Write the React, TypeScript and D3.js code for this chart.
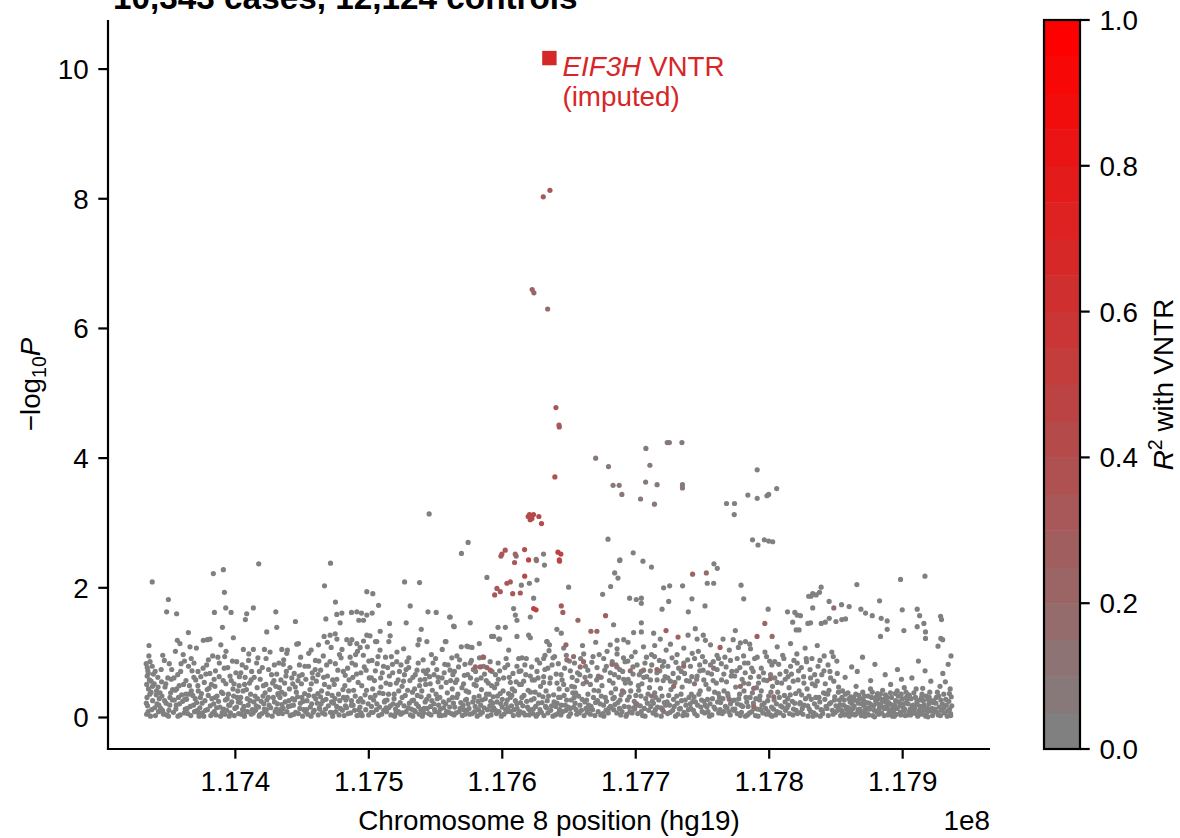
import React, { useEffect, useRef } from 'react';
import * as d3 from 'd3';

// chr8 positions are in kb (hg19), values are -log10 P
const title = '10,343 cases, 12,124 controls';
const vntr = { kb: 117635.3, logP: 10.17 };

// SNPs in LD with the VNTR: [kb, -log10P, r2]
const ldSnps: [number, number, number][] = [
  [117635.7,8.13,0.3],[117630.7,8.03,0.3],
  [117622.4,6.6,0.22],[117623.7,6.55,0.22],[117634.0,6.3,0.18],
  [117640.2,4.78,0.3],[117642.5,4.51,0.3],[117642.7,4.48,0.3],[117639.4,3.71,0.38],
  [117620.4,3.13,0.4],[117623.4,3.13,0.4],[117627.4,3.1,0.4],[117620.9,3.05,0.4],[117629.4,2.99,0.42],[117619.4,3.1,0.4],[117622.2,3.07,0.4],
  [117599.0,2.49,0.3],[117599.7,2.52,0.3],[117602.2,2.58,0.3],[117609.7,2.52,0.15],[117610.4,2.49,0.15],[117616.7,2.59,0.35],[117619.7,2.43,0.45],
  [117641.7,2.55,0.45],[117643.9,2.52,0.45],[117642.7,2.43,0.45],[117642.9,2.41,0.3],[117625.4,2.44,0.1],[117625.6,2.42,0.1],
  [117616.8,2.18,0.4],[117596.0,1.99,0.3],[117598.5,1.94,0.3],[117603.5,2.07,0.3],[117606.0,2.09,0.3],[117607.8,1.91,0.3],[117613.5,1.92,0.3],[117594.3,1.89,0.3],[117609.2,2.39,0.25],
  [117623.5,1.68,0.45],[117625.3,1.66,0.45],
  [117644.2,1.72,0.25],[117645.4,1.62,0.25],[117656.7,1.5,0.2],[117666.4,1.33,0.2],[117670.9,1.33,0.2],[117677.4,1.57,0.25],[117742.6,2.21,0.2],[117752.9,2.23,0.15],
  [117722.7,1.34,0.25],[117731.7,1.24,0.2],[117796.7,1.45,0.2],[117790.9,1.25,0.25],[117802.2,1.25,0.15],[117763.2,1.08,0.25],[117848.4,1.69,0.15],[117647.7,1.12,0.2],
  [117585.5,0.93,0.2],[117579.8,0.78,0.2],[117583.5,0.78,0.2],[117588.5,0.77,0.2],[117591.0,0.73,0.2],
];

// weakly tinted points inside the band
const weakLdSnps: [number, number, number][] = [
  [117658.4,0.78,0.15],[117660.9,0.86,0.15],[117682.2,0.82,0.15],[117685.9,0.78,0.12],[117695.9,0.72,0.15],[117705.9,0.73,0.12],[117715.9,0.74,0.15],
  [117728.4,0.48,0.15],[117735.9,0.79,0.15],[117758.4,0.76,0.12],[117778.4,0.48,0.15],[117788.4,0.17,0.15],[117800.9,0.6,0.15],[117803.4,0.32,0.15],
  [117648.4,0.89,0.15],[117653.4,0.94,0.15],[117788.4,0.45,0.15],[117663.0,0.55,0.12],[117672.0,0.62,0.12],[117690.0,0.41,0.1],[117700.0,0.21,0.1],
  [117712.0,0.33,0.12],[117720.0,0.12,0.1],[117744.0,0.52,0.12],[117770.0,0.28,0.1],
];

// secondary signals right of the VNTR
const secondarySnps: [number, number, number][] = [
  [117670.0,4.0,0.06],[117679.6,3.87,0.06],[117707.6,4.15,0.06],[117723.6,4.24,0.06],[117725.2,4.24,0.06],[117734.6,4.24,0.06],[117710.6,3.89,0.06],
  [117707.4,3.63,0.06],[117716.0,3.59,0.06],[117735.0,3.59,0.06],[117735.0,3.54,0.06],[117683.0,3.58,0.06],[117687.6,3.58,0.06],[117689.6,3.44,0.06],
  [117703.6,3.37,0.06],[117714.0,3.29,0.06],
  [117791.0,3.82,0.04],[117805.6,3.53,0.04],[117798.3,3.42,0.04],[117799.6,3.44,0.04],[117791.0,3.38,0.04],[117784.0,3.43,0.04],[117768.0,3.3,0.04],
  [117774.0,3.3,0.04],[117773.8,3.13,0.04],[117787.5,2.74,0.04],[117791.6,2.66,0.04],[117796.3,2.74,0.04],[117799.6,2.72,0.04],[117802.6,2.71,0.04],
];

// grey SNPs above the dense band: [kb, -log10P]
const scatterSnps: [number, number][] = [
  [117337.7,2.09],[117349.8,1.82],[117348.5,1.63],[117356.0,1.6],[117335.3,1.11],[117383.5,2.22],[117391.0,2.28],[117391.8,1.93],[117417.5,2.37],
  [117392.8,1.69],[117396.8,1.62],[117384.3,1.62],[117390.3,1.39],[117364.8,1.31],[117398.5,1.23],[117408.5,1.6],[117407.5,1.51],[117413.5,1.69],
  [117430.3,1.63],[117423.5,1.32],[117431.0,1.39],[117445.0,1.48],[117466.8,2.03],[117471.3,2.38],[117475.0,1.78],[117467.8,1.52],[117476.0,1.59],
  [117479.8,1.61],[117478.5,1.46],[117487.0,1.62],[117491.0,1.63],[117494.5,1.61],[117498.5,1.58],[117496.0,1.5],[117492.5,1.5],[117502.5,1.61],
  [117498.5,1.94],[117503.0,1.91],[117507.3,1.73],[117515.5,1.45],[117508.5,1.33],[117506.0,1.17],[117498.5,1.27],[117516.0,1.26],[117515.0,1.17],
  [117526.8,2.09],[117538.0,2.08],[117531.0,1.72],[117528.0,1.46],[117539.3,1.36],[117544.3,1.63],[117550.5,1.62],[117560.5,1.55],[117563.5,1.41],
  [117576.0,1.46],[117588.5,2.16],[117545.2,3.14],
  [117356.5,1.19],[117358.5,1.14],[117366.0,1.09],[117379.0,1.2],[117381.0,1.21],[117393.0,1.02],[117406.0,1.05],[117413.5,1.05],[117421.8,1.05],
  [117434.8,1.05],[117438.5,0.99],[117447.3,1.14],[117456.8,1.04],[117462.3,1.12],[117466.5,1.25],[117471.0,1.27],[117474.8,1.29],[117483.5,1.2],
  [117487.3,1.2],[117491.0,1.14],[117493.5,1.08],[117537.8,1.2],[117543.5,1.17],[117557.3,1.17],[117573.5,1.1],[117582.8,1.14],[117592.0,1.25],[117597.3,1.21],
  [117614.3,2.04],[117620.3,2.07],[117626.0,2.12],[117623.5,1.84],[117621.0,1.55],[117608.5,1.68],[117609.8,1.58],[117611.0,1.5],[117596.8,1.39],
  [117602.3,1.39],[117593.5,1.25],[117598.0,1.21],[117611.0,1.25],[117619.8,1.27],[117621.0,1.23],[117604.8,1.04],[117612.3,0.91],[117614.8,0.92],
  [117633.5,1.17],[117631.0,0.91],[117574.8,1.09],[117577.3,1.08],[117564.0,1.4],[117561.0,1.55],[117557.8,1.17],
  [117569.4,2.53],[117574.4,2.7],[117630.9,2.52],[117631.6,2.35],[117679.2,2.75],[117688.2,2.43],[117698.1,2.54],[117705.4,2.41],[117711.8,2.32],
  [117758.6,2.37],[117761.1,2.3],
  [117649.7,2.01],[117687.9,2.42],[117684.2,2.23],[117686.7,2.15],[117681.2,2.02],[117675.2,1.9],[117695.4,1.84],[117700.4,1.82],[117704.2,1.84],
  [117704.2,1.76],[117683.4,1.43],[117704.2,1.46],[117720.9,2.0],[117725.4,2.03],[117735.1,2.03],[117753.6,2.07],[117758.4,2.07],[117742.1,1.83],
  [117739.4,1.63],[117751.9,1.72],[117719.7,1.67],[117724.7,1.79],[117778.9,2.04],[117780.9,1.83],[117799.2,1.67],[117813.7,1.63],[117819.2,1.62],
  [117820.9,1.58],[117823.4,1.57],[117817.6,1.47],[117829.6,1.87],[117832.6,1.91],[117832.6,1.69],[117838.9,2.01],[117837.7,1.93],[117844.9,1.79],
  [117854.2,1.74],[117859.9,1.71],[117868.7,1.67],[117872.2,1.61],[117877.2,1.57],[117882.7,1.8],[117883.9,1.53],[117888.4,1.49],[117888.4,1.36],
  [117899.7,1.66],[117900.9,1.34],[117910.9,1.67],[117912.7,1.57],[117915.9,1.45],[117910.9,1.4],[117928.4,1.56],[117929.1,1.51],[117917.1,1.32],
  [117917.1,1.22],[117883.4,1.25],[117857.2,1.52],[117854.4,1.51],[117845.0,1.53],[117850.0,1.48],[117831.0,1.46],[117829.0,1.45],[117839.0,1.45],
  [117842.0,1.47],[117822.4,1.35],[117820.2,1.35],[117774.6,1.34],[117765.4,1.21],[117773.0,1.2],[117778.4,1.15],[117782.2,1.17],[117785.4,1.13],
  [117640.9,1.36],[117644.2,1.3],[117698.4,1.31],[117704.2,1.32],[117713.4,1.3],[117718.4,1.21],[117714.2,1.11],[117691.0,1.2],[117686.0,1.19],
  [117694.2,1.16],[117633.4,1.17],[117635.4,1.12],[117739.2,1.27],[117746.0,1.21],[117752.2,1.19],[117750.6,1.27],[117744.6,1.37],
  [117898.4,2.13],[117916.7,2.18],[117865.7,2.05],[117835.2,1.89],[117831.4,1.87],[117928.6,1.22],[117930.0,1.2],[117926.5,1.1],
];

// dense band, left part
const bandLeft: [number, number][] = [
  [117333.5,0.05],[117334.2,0.18],[117333.8,0.31],[117334.9,0.44],[117335.6,0.58],[117334.4,0.72],[117336.1,0.86],[117337.3,0.12],[117338.0,0.26],
  [117336.8,0.39],[117339.2,0.52],[117338.6,0.67],[117340.1,0.03],[117341.3,0.21],[117340.7,0.35],[117342.4,0.09],[117341.9,0.62],[117343.0,0.29],
  [117333.9,0.64],[117335.2,0.95],[117337.7,0.79],
  [117344.1,0.14],[117345.0,0.33],[117346.2,0.05],[117347.3,0.47],[117348.1,0.22],[117349.4,0.61],[117350.2,0.11],[117351.5,0.38],[117352.3,0.74],
  [117346.8,0.88],[117349.9,0.02],[117352.8,0.27],[117344.7,0.55],
  [117353.6,0.08],[117354.9,0.42],[117355.7,0.19],[117356.8,0.66],[117357.4,0.31],[117358.6,0.04],[117359.3,0.83],[117360.5,0.25],[117361.2,0.51],
  [117362.4,0.13],[117355.1,1.02],[117360.9,0.97],[117362.9,0.36],
  [117363.5,0.28],[117364.3,0.06],[117365.6,0.49],[117366.2,0.17],[117367.5,0.72],[117368.1,0.34],[117369.4,0.09],[117370.3,0.58],[117371.0,0.23],
  [117372.2,0.41],[117366.9,0.91],[117372.8,0.02],[117370.8,1.07],
  [117373.4,0.15],[117374.6,0.37],[117375.3,0.07],[117376.7,0.54],[117377.2,0.26],[117378.5,0.81],[117379.1,0.12],[117380.3,0.45],[117381.6,0.03],
  [117382.4,0.29],[117376.0,1.19],[117380.9,0.68],[117383.0,0.95],
  [117383.8,0.21],[117384.7,0.48],[117385.5,0.04],[117386.3,0.33],[117387.9,0.63],[117388.4,0.16],[117389.6,0.39],[117390.2,0.08],[117391.7,0.76],
  [117392.5,0.27],[117386.9,0.93],[117389.1,1.12],[117392.9,0.52],
  [117393.6,0.11],[117394.8,0.36],[117395.4,0.02],[117396.9,0.57],[117397.3,0.24],[117398.2,0.44],[117399.6,0.14],[117400.4,0.69],[117401.3,0.31],
  [117402.5,0.06],[117397.8,0.87],[117402.8,0.49],[117395.9,0.19],
  [117403.7,0.23],[117404.5,0.05],[117405.8,0.41],[117406.4,0.17],[117407.3,0.62],[117408.9,0.29],[117409.2,0.09],[117410.6,0.53],[117411.4,0.36],
  [117412.7,0.12],[117405.1,0.81],[117410.1,0.98],[117412.2,0.71],
  [117413.4,0.07],[117414.8,0.33],[117415.6,0.18],[117416.3,0.46],[117417.9,0.02],[117418.6,0.59],[117419.4,0.25],[117420.2,0.77],[117421.7,0.13],
  [117422.3,0.38],[117416.9,0.92],[117419.9,0.06],[117422.9,0.51],
  [117423.6,0.27],[117424.2,0.04],[117425.7,0.43],[117426.5,0.15],[117427.1,0.66],[117428.4,0.31],[117429.8,0.09],[117430.3,0.48],[117431.5,0.21],
  [117432.6,0.84],[117426.0,1.01],[117428.9,0.57],[117432.1,0.35],
  [117433.8,0.12],[117434.6,0.39],[117435.3,0.06],[117436.9,0.53],[117437.4,0.24],[117438.2,0.71],[117439.7,0.17],[117440.5,0.44],[117441.1,0.03],
  [117442.8,0.29],[117436.2,0.89],[117439.0,1.04],[117442.3,0.61],
  [117443.5,0.19],[117444.9,0.47],[117445.2,0.08],[117446.6,0.32],[117447.8,0.64],[117448.3,0.14],[117449.5,0.52],[117450.4,0.02],[117451.9,0.37],
  [117452.1,0.79],[117446.0,1.13],[117450.9,0.25],[117448.9,0.93],
  [117453.7,0.26],[117454.3,0.05],[117455.9,0.43],[117456.2,0.16],[117457.6,0.69],[117458.8,0.33],[117459.1,0.11],[117460.7,0.56],[117461.4,0.22],
  [117462.6,0.87],[117455.0,0.99],[117459.8,0.74],[117462.1,0.04],
  [117463.2,0.13],[117464.6,0.41],[117465.3,0.07],[117466.1,0.62],[117467.9,0.28],[117468.4,0.81],[117469.7,0.18],[117470.2,0.47],[117471.8,1.08],
  [117472.5,0.34],[117465.9,0.95],[117468.9,1.16],[117472.9,0.02],
  [117473.6,0.22],[117474.1,0.51],[117475.4,0.09],[117476.8,0.73],[117477.3,0.36],[117478.7,0.14],[117479.2,0.92],[117480.6,0.43],[117481.5,0.03],
  [117482.3,0.65],[117476.1,1.21],[117479.9,1.05],[117482.8,0.27],
];

// dense band, middle part
const bandMiddle: [number, number][] = [
  [117483.7,0.31],[117484.5,0.06],[117485.2,0.58],[117486.9,0.19],[117487.4,0.84],[117488.6,0.42],[117489.3,0.11],[117490.8,0.67],[117491.5,1.02],
  [117492.2,0.25],[117485.9,1.14],[117490.1,0.97],[117492.8,0.04],
  [117493.4,0.16],[117494.7,0.49],[117495.1,0.03],[117496.6,0.78],[117497.2,0.35],[117498.9,1.09],[117499.5,0.21],[117500.3,0.61],[117501.8,0.08],
  [117502.4,0.88],[117496.0,1.18],[117500.9,1.26],[117502.9,0.44],
  [117503.6,0.27],[117504.2,0.57],[117505.8,0.12],[117506.3,0.83],[117507.9,0.38],[117508.4,1.04],[117509.6,0.05],[117510.1,0.69],[117511.7,0.24],
  [117512.5,0.93],[117505.0,1.17],[117509.0,0.47],[117512.9,0.15],
  [117513.3,0.09],[117514.8,0.36],[117515.4,0.64],[117516.2,0.18],[117517.7,0.82],[117518.9,0.29],[117519.3,0.02],[117520.6,0.53],[117521.1,1.01],
  [117522.4,0.41],[117516.9,0.94],[117520.0,0.13],[117522.9,0.71],
  [117523.5,0.23],[117524.9,0.48],[117525.2,0.07],[117526.7,0.66],[117527.3,0.34],[117528.6,0.86],[117529.4,0.15],[117530.8,0.57],[117531.2,0.04],
  [117532.7,0.39],[117526.1,1.06],[117529.9,0.77],[117532.3,0.26],
  [117533.9,0.11],[117534.3,0.44],[117535.6,0.21],[117536.1,0.73],[117537.8,0.05],[117538.5,0.58],[117539.2,0.32],[117540.7,0.89],[117541.4,0.14],
  [117542.6,0.51],[117536.8,1.12],[117540.1,0.02],[117542.9,0.68],
  [117543.4,0.28],[117544.8,0.06],[117545.5,0.63],[117546.3,0.17],[117547.6,0.42],[117548.1,0.84],[117549.7,0.09],[117550.4,0.36],[117551.9,0.55],
  [117552.3,0.19],[117546.9,0.97],[117550.9,0.74],[117552.8,0.03],
  [117553.6,0.13],[117554.2,0.47],[117555.9,0.24],[117556.5,0.69],[117557.1,0.04],[117558.8,0.38],[117559.4,0.81],[117560.6,0.16],[117561.3,0.57],
  [117562.7,0.31],[117555.0,1.05],[117559.9,0.08],[117562.2,0.92],
  [117563.4,0.22],[117564.9,0.54],[117565.3,0.07],[117566.7,0.36],[117567.2,0.78],[117568.5,0.14],[117569.8,0.46],[117570.1,0.03],[117571.6,0.65],
  [117572.4,0.27],[117566.0,0.95],[117569.3,1.09],[117572.9,0.41],
  [117573.5,0.11],[117574.8,0.39],[117575.6,0.05],[117576.2,0.61],[117577.9,0.24],[117578.3,0.74],[117579.7,0.17],[117580.4,0.49],[117581.2,0.02],
  [117582.6,0.33],[117576.9,0.88],[117580.9,0.58],
  [117583.8,0.19],[117584.4,0.43],[117585.1,0.08],[117586.7,0.67],[117587.3,0.29],[117588.9,0.12],[117589.5,0.53],[117590.2,0.36],[117591.6,0.04],
  [117592.3,0.71],[117586.0,0.93],[117592.8,0.22],
  [117593.6,0.15],[117594.2,0.46],[117595.7,0.06],[117596.4,0.33],[117597.1,0.59],[117598.8,0.21],[117599.3,0.02],[117600.6,0.41],[117601.9,0.77],
  [117602.5,0.12],[117596.9,0.84],[117600.0,0.28],
  [117603.4,0.09],[117604.7,0.37],[117605.2,0.62],[117606.9,0.18],[117607.5,0.44],[117608.3,0.03],[117609.8,0.26],[117610.4,0.55],[117611.1,0.14],
  [117612.6,0.71],[117606.0,0.31],[117611.9,0.06],
  [117613.7,0.23],[117614.3,0.51],[117615.8,0.07],[117616.2,0.34],[117617.6,0.66],[117618.9,0.16],[117619.4,0.42],[117620.1,0.04],[117621.7,0.27],
  [117622.5,0.58],[117616.9,0.81],[117620.8,0.11],
  [117623.2,0.13],[117624.6,0.39],[117625.4,0.02],[117626.8,0.61],[117627.1,0.22],[117628.7,0.48],[117629.3,0.08],[117630.5,0.32],[117631.9,0.74],
  [117632.4,0.17],[117626.1,0.89],[117630.9,0.54],
  [117633.7,0.26],[117634.2,0.07],[117635.6,0.53],[117636.9,0.18],[117637.3,0.81],[117638.5,0.35],[117639.8,0.04],[117640.4,0.67],[117641.1,0.22],
  [117642.6,0.44],[117635.0,1.03],[117639.2,0.94],[117642.9,0.12],
  [117643.4,0.31],[117644.8,0.58],[117645.3,0.09],[117646.7,0.76],[117647.2,0.19],[117648.6,0.43],[117649.9,0.02],[117650.3,0.87],[117651.7,0.27],
  [117652.4,0.62],[117646.0,1.07],[117650.9,0.14],
  [117653.5,0.16],[117654.1,0.47],[117655.8,0.05],[117656.4,0.69],[117657.2,0.33],[117658.7,0.91],[117659.3,0.11],[117660.6,0.52],[117661.9,0.24],
  [117662.3,0.79],[117655.0,0.38],[117660.1,1.11],
  [117663.6,0.08],[117664.2,0.36],[117665.9,0.64],[117666.5,0.17],[117667.1,0.85],[117668.8,0.42],[117669.4,0.03],[117670.7,0.58],[117671.3,0.26],
  [117672.6,0.97],[117665.0,0.13],[117670.0,1.16],
  [117673.3,0.21],[117674.7,0.49],[117675.4,0.06],[117676.8,0.73],[117677.2,0.31],[117678.5,1.02],[117679.9,0.14],[117680.3,0.57],[117681.6,0.38],
  [117682.4,0.86],[117676.1,0.02],[117680.9,1.12],
];

// dense band, right part
const bandRight: [number, number][] = [
  [117683.5,0.12],[117684.9,0.44],[117685.2,0.81],[117686.6,0.23],[117687.3,0.62],[117688.7,0.04],[117689.1,0.35],[117690.8,0.92],[117691.4,0.17],
  [117692.2,0.53],[117686.0,1.06],[117690.2,0.71],
  [117693.8,0.27],[117694.3,0.59],[117695.7,0.09],[117696.2,0.41],[117697.9,0.78],[117698.4,0.15],[117699.6,1.01],[117700.1,0.34],[117701.5,0.06],
  [117702.7,0.66],[117696.9,0.94],[117700.8,0.21],
  [117703.4,0.18],[117704.6,0.52],[117705.1,0.03],[117706.9,0.84],[117707.5,0.29],[117708.2,0.63],[117709.7,0.11],[117710.3,0.46],[117711.8,0.97],
  [117712.4,0.25],[117705.8,1.09],[117710.9,0.72],
  [117713.6,0.07],[117714.2,0.38],[117715.9,0.69],[117716.3,0.16],[117717.7,0.88],[117718.5,0.45],[117719.1,0.02],[117720.6,0.57],[117721.4,0.23],
  [117722.8,1.04],[117715.0,0.31],[117720.0,0.79],
  [117723.5,0.24],[117724.1,0.61],[117725.8,0.08],[117726.4,0.43],[117727.2,0.92],[117728.9,0.17],[117729.3,0.54],[117730.7,0.33],[117731.6,0.05],
  [117732.2,0.76],[117726.0,1.13],[117730.1,0.85],
  [117733.4,0.14],[117734.8,0.47],[117735.3,0.03],[117736.6,0.68],[117737.1,0.27],[117738.9,0.89],[117739.5,0.12],[117740.2,0.56],[117741.7,0.36],
  [117742.3,0.99],[117736.0,1.07],[117740.8,0.21],
  [117743.7,0.32],[117744.2,0.06],[117745.6,0.59],[117746.4,0.19],[117747.9,0.81],[117748.3,0.41],[117749.8,0.09],[117750.5,0.73],[117751.1,0.25],
  [117752.6,0.51],[117746.9,1.02],[117750.0,0.94],
  [117753.3,0.16],[117754.7,0.44],[117755.2,0.02],[117756.8,0.67],[117757.5,0.29],[117758.1,0.86],[117759.6,0.13],[117760.4,0.53],[117761.9,0.37],
  [117762.2,0.07],[117756.0,1.12],[117760.9,0.96],
  [117763.6,0.23],[117764.3,0.58],[117765.9,0.09],[117766.1,0.41],[117767.7,0.78],[117768.4,0.15],[117769.2,0.33],[117770.8,0.04],[117771.5,0.64],
  [117772.3,0.26],[117766.8,0.93],[117770.1,1.04],
  [117773.4,0.11],[117774.9,0.47],[117775.6,0.72],[117776.2,0.21],[117777.8,0.36],[117778.3,0.03],[117779.7,0.59],[117780.1,0.17],[117781.5,0.84],
  [117782.6,0.31],[117776.9,1.08],[117780.8,0.95],
  [117783.2,0.24],[117784.6,0.52],[117785.3,0.07],[117786.9,0.76],[117787.4,0.38],[117788.8,0.14],[117789.1,0.91],[117790.5,0.46],[117791.7,0.02],
  [117792.3,0.63],[117786.0,1.06],[117790.0,0.29],
  [117793.5,0.12],[117794.1,0.41],[117795.7,0.69],[117796.2,0.22],[117797.9,0.05],[117798.4,0.57],[117799.6,0.33],[117800.3,0.87],[117801.8,0.16],
  [117802.5,0.48],[117796.8,1.01],[117800.9,0.04],
  [117803.7,0.27],[117804.2,0.61],[117805.9,0.09],[117806.4,0.39],[117807.1,0.82],[117808.6,0.18],[117809.3,0.53],[117810.8,0.03],[117811.4,0.34],
  [117812.7,0.71],[117806.0,1.09],[117810.1,0.96],
  [117813.4,0.15],[117814.9,0.46],[117815.2,0.06],[117816.7,0.67],[117817.3,0.25],[117818.5,0.88],[117819.8,0.37],[117820.2,0.11],[117821.6,0.58],
  [117822.9,0.21],[117816.0,1.14],[117820.7,0.98],
  [117823.6,0.08],[117824.3,0.35],[117825.8,0.63],[117826.1,0.19],[117827.7,0.91],[117828.4,0.44],[117829.2,0.02],[117830.6,0.74],[117831.5,0.28],
  [117832.3,0.52],[117826.9,1.07],[117830.0,0.13],
  [117833.9,0.21],[117834.5,0.49],[117835.1,0.04],[117836.6,0.79],[117837.3,0.31],[117838.8,0.12],[117839.4,0.66],[117840.7,0.38],[117841.2,0.95],
  [117842.6,0.17],[117836.0,1.11],[117840.1,0.06],
  [117843.3,0.14],[117844.8,0.42],[117845.5,0.71],[117846.2,0.23],[117847.9,0.05],[117848.4,0.56],[117849.1,0.32],[117850.7,0.87],[117851.3,0.11],
  [117852.6,0.27],[117846.9,1.01],[117850.0,0.18],
  [117853.5,0.03],[117854.2,0.11],[117855.7,0.19],[117856.3,0.27],[117857.1,0.36],[117858.8,0.07],[117859.4,0.15],[117860.6,0.24],[117861.2,0.32],
  [117862.7,0.05],[117855.0,0.41],[117858.0,0.13],[117860.0,0.02],[117862.1,0.21],[117856.9,0.62],[117861.8,0.78],[117854.8,0.09],[117859.9,0.29],
  [117863.6,0.17],[117864.3,0.04],[117865.9,0.26],[117866.5,0.12],[117867.2,0.34],[117868.8,0.08],[117869.4,0.21],[117870.1,0.39],[117871.7,0.02],
  [117872.3,0.14],[117865.1,0.48],[117868.1,0.29],[117870.8,0.09],[117872.9,0.23],[117866.0,0.71],[117869.9,0.93],[117864.9,0.36],[117871.1,0.18],
  [117873.4,0.06],[117874.9,0.22],[117875.3,0.13],[117876.7,0.31],[117877.6,0.03],[117878.2,0.18],[117879.8,0.27],[117880.5,0.09],[117881.1,0.37],
  [117882.6,0.15],[117875.9,0.44],[117878.9,0.01],[117880.0,0.24],[117882.1,0.05],[117876.0,0.57],[117879.2,0.82],[117874.1,0.33],[117881.8,0.11],
  [117883.7,0.19],[117884.3,0.07],[117885.8,0.28],[117886.4,0.14],[117887.1,0.35],[117888.9,0.04],[117889.5,0.23],[117890.2,0.11],[117891.6,0.31],
  [117892.4,0.02],[117885.0,0.42],[117887.9,0.17],[117890.8,0.38],[117892.9,0.09],[117886.9,0.66],[117891.0,0.51],[117884.9,0.25],[117889.0,0.13],
  [117893.3,0.12],[117894.7,0.26],[117895.2,0.05],[117896.6,0.33],[117897.9,0.18],[117898.3,0.08],[117899.6,0.29],[117900.4,0.15],[117901.8,0.03],
  [117902.2,0.22],[117895.9,0.41],[117898.9,0.36],[117900.9,0.1],[117902.8,0.31],[117896.1,0.74],[117899.1,0.59],[117894.0,0.19],[117901.2,0.46],
  [117903.6,0.04],[117904.1,0.21],[117905.7,0.13],[117906.3,0.29],[117907.8,0.07],[117908.4,0.38],[117909.2,0.16],[117910.7,0.25],[117911.3,0.02],
  [117912.5,0.11],[117905.0,0.34],[117908.0,0.19],[117910.1,0.44],[117912.9,0.27],[117906.9,0.61],[117911.8,0.87],[117904.8,0.09],[117909.9,0.06],
  [117913.4,0.17],[117914.8,0.05],[117915.5,0.26],[117916.2,0.12],[117917.7,0.33],[117918.1,0.08],[117919.6,0.21],[117920.3,0.39],[117921.9,0.14],
  [117922.4,0.03],[117915.0,0.45],[117918.9,0.28],[117920.9,0.1],[117922.9,0.23],[117916.8,0.72],[117921.1,0.56],[117914.1,0.31],[117919.0,0.01],
  [117923.5,0.09],[117924.9,0.22],[117925.2,0.31],[117926.7,0.04],[117927.4,0.16],[117928.6,0.27],[117929.1,0.11],[117930.8,0.36],[117931.3,0.07],
  [117932.7,0.19],[117933.4,0.02],[117934.6,0.25],[117935.2,0.13],[117935.9,0.06],[117936.4,0.32],[117936.8,0.18],[117935.6,0.44],[117934.1,0.82],
  [117936.2,0.95],[117932.0,0.55],[117928.0,0.48],[117930.1,0.68],[117926.0,0.39],
];

// extra points in the lowest, densest strip of the band
const bandLow: [number, number][] = [
  [117333.3,0.22],[117334.6,0.09],[117335.9,0.36],[117336.4,0.02],[117337.9,0.48],[117339.6,0.15],[117341.0,0.41],[117342.7,0.19],[117333.6,0.51],[117334.0,0.77],
  [117343.6,0.38],[117345.4,0.11],[117347.0,0.26],[117348.7,0.04],[117350.8,0.19],[117351.0,0.31],[117353.0,0.43],[117345.9,0.07],
  [117354.3,0.27],[117355.4,0.13],[117357.0,0.02],[117358.2,0.21],[117359.8,0.35],[117361.7,0.07],[117362.1,0.28],[117356.0,0.44],
  [117363.9,0.14],[117365.0,0.36],[117366.6,0.03],[117368.6,0.19],[117369.9,0.29],[117371.5,0.11],[117372.5,0.07],[117367.0,0.41],
  [117373.8,0.31],[117375.0,0.22],[117376.3,0.02],[117377.7,0.11],[117379.7,0.34],[117381.2,0.18],[117382.8,0.06],[117378.9,0.43],
  [117384.2,0.09],[117385.0,0.31],[117386.0,0.15],[117387.4,0.25],[117388.9,0.02],[117390.7,0.37],[117391.2,0.13],[117392.1,0.05],
  [117393.9,0.29],[117395.0,0.19],[117396.3,0.07],[117398.7,0.33],[117399.2,0.03],[117400.9,0.16],[117401.8,0.41],[117402.2,0.24],
  [117404.0,0.31],[117405.4,0.12],[117406.8,0.02],[117408.3,0.43],[117409.6,0.19],[117411.0,0.26],[117411.9,0.05],[117407.8,0.09],
  [117413.9,0.24],[117415.1,0.11],[117416.6,0.29],[117417.4,0.16],[117418.2,0.04],[117420.7,0.33],[117421.3,0.21],[117422.6,0.09],
  [117423.2,0.12],[117424.7,0.31],[117425.3,0.19],[117427.6,0.02],[117429.3,0.24],[117430.8,0.13],[117431.9,0.37],[117432.3,0.06],
  [117433.4,0.31],[117434.9,0.2],[117435.8,0.14],[117437.0,0.36],[117438.6,0.09],[117440.1,0.26],[117441.6,0.18],[117442.1,0.04],
  [117443.9,0.05],[117444.4,0.27],[117445.7,0.39],[117447.2,0.06],[117448.7,0.22],[117449.9,0.31],[117451.3,0.12],[117452.6,0.09],
  [117453.3,0.12],[117454.8,0.34],[117456.7,0.02],[117457.2,0.21],[117458.3,0.08],[117460.2,0.29],[117461.8,0.37],[117462.9,0.15],
  [117463.8,0.32],[117464.2,0.21],[117465.6,0.26],[117467.1,0.05],[117467.5,0.13],[117469.2,0.37],[117471.3,0.08],[117472.1,0.24],
  [117473.1,0.07],[117474.6,0.29],[117475.9,0.17],[117477.7,0.04],[117478.2,0.26],[117480.2,0.11],[117481.0,0.31],[117482.5,0.18],
  [117483.3,0.15],[117484.9,0.41],[117486.3,0.07],[117487.0,0.26],[117488.2,0.19],[117489.8,0.33],[117491.1,0.03],[117492.5,0.12],
  [117493.8,0.29],[117494.2,0.07],[117495.6,0.24],[117497.7,0.12],[117498.3,0.42],[117499.9,0.04],[117501.2,0.31],[117502.0,0.17],
  [117503.2,0.08],[117504.7,0.34],[117506.0,0.21],[117507.4,0.03],[117508.0,0.16],[117510.7,0.37],[117511.2,0.11],[117512.2,0.26],
  [117513.7,0.27],[117515.0,0.15],[117516.5,0.04],[117518.2,0.21],[117519.0,0.36],[117520.3,0.07],[117521.6,0.19],[117522.2,0.09],
  [117523.9,0.05],[117525.0,0.31],[117526.4,0.18],[117528.0,0.09],[117529.1,0.42],[117530.4,0.22],[117531.8,0.13],[117532.9,0.02],
  [117533.5,0.27],[117534.9,0.09],[117536.4,0.34],[117537.2,0.17],[117538.9,0.12],[117539.7,0.41],[117541.0,0.07],[117542.2,0.24],
  [117543.8,0.14],[117545.0,0.33],[117546.6,0.04],[117547.2,0.26],[117548.8,0.21],[117549.3,0.12],[117551.3,0.29],[117552.6,0.08],
  [117553.2,0.31],[117554.6,0.03],[117556.1,0.15],[117557.6,0.21],[117558.3,0.09],[117560.1,0.27],[117561.8,0.06],[117562.5,0.44],
  [117563.8,0.04],[117564.4,0.16],[117565.9,0.31],[117567.7,0.09],[117568.9,0.23],[117570.6,0.19],[117571.2,0.12],[117572.1,0.05],
  [117573.2,0.28],[117574.4,0.21],[117575.1,0.14],[117577.4,0.06],[117578.9,0.31],[117579.3,0.09],[117581.8,0.25],[117582.2,0.12],
  [117583.4,0.05],[117584.9,0.27],[117586.4,0.15],[117588.2,0.36],[117589.1,0.02],[117590.7,0.18],[117591.3,0.25],[117592.4,0.11],
  [117593.2,0.32],[117595.0,0.11],[117596.0,0.24],[117597.6,0.09],[117598.4,0.37],[117599.9,0.16],[117601.2,0.05],[117602.8,0.21],
  [117603.8,0.27],[117604.3,0.15],[117606.4,0.09],[117607.1,0.34],[117608.9,0.12],[117609.2,0.41],[117610.9,0.21],[117612.3,0.04],
  [117613.2,0.09],[117614.7,0.31],[117615.4,0.18],[117617.1,0.04],[117618.3,0.25],[117619.8,0.13],[117621.2,0.39],[117622.9,0.06],
  [117623.8,0.29],[117625.0,0.17],[117626.4,0.05],[117627.6,0.35],[117628.2,0.12],[117629.8,0.23],[117631.2,0.03],[117632.8,0.41],
  [117633.2,0.15],[117634.7,0.33],[117636.3,0.11],[117637.9,0.02],[117638.8,0.24],[117640.0,0.17],[117641.7,0.06],[117642.2,0.31],
  [117643.9,0.04],[117644.3,0.19],[117646.3,0.34],[117647.8,0.11],[117648.2,0.27],[117649.4,0.16],[117651.2,0.06],[117652.8,0.38],
  [117653.9,0.31],[117654.6,0.22],[117655.3,0.12],[117657.7,0.07],[117658.2,0.19],[117659.8,0.28],[117661.3,0.03],[117662.7,0.14],
  [117663.2,0.27],[117664.7,0.19],[117666.0,0.05],[117667.6,0.12],[117668.3,0.31],[117669.9,0.23],[117671.8,0.09],[117672.2,0.41],
  [117673.8,0.04],[117674.2,0.33],[117675.9,0.19],[117677.7,0.11],[117678.1,0.25],[117679.4,0.07],[117681.1,0.17],[117682.9,0.29],
  [117683.9,0.31],[117684.4,0.2],[117685.8,0.07],[117687.8,0.14],[117688.2,0.27],[117689.7,0.09],[117691.0,0.39],[117692.7,0.02],
  [117693.3,0.05],[117694.8,0.16],[117695.2,0.32],[117697.3,0.07],[117698.9,0.25],[117699.2,0.13],[117701.1,0.19],[117702.2,0.42],
  [117703.9,0.33],[117704.1,0.09],[117706.4,0.14],[117707.0,0.02],[117708.7,0.22],[117709.2,0.36],[117711.3,0.17],[117712.9,0.07],
  [117713.2,0.22],[117714.7,0.12],[117715.4,0.04],[117717.2,0.27],[117718.9,0.15],[117719.7,0.33],[117721.0,0.09],[117722.3,0.19],
  [117723.9,0.06],[117724.7,0.34],[117725.3,0.19],[117727.7,0.11],[117728.3,0.28],[117729.8,0.02],[117731.1,0.22],[117732.7,0.13],
  [117733.9,0.36],[117734.3,0.26],[117736.2,0.08],[117737.6,0.19],[117738.3,0.04],[117739.9,0.31],[117741.2,0.14],[117742.8,0.25],
  [117743.2,0.11],[117744.7,0.24],[117746.0,0.03],[117747.3,0.36],[117748.8,0.16],[117749.3,0.27],[117751.6,0.07],[117752.1,0.19],
  [117753.8,0.28],[117754.2,0.09],[117755.7,0.21],[117757.0,0.04],[117758.6,0.16],[117759.1,0.39],[117761.3,0.24],[117762.7,0.31],
  [117763.2,0.12],[117764.8,0.06],[117765.3,0.29],[117767.2,0.17],[117768.9,0.37],[117769.7,0.09],[117771.0,0.21],[117772.8,0.13],
  [117773.9,0.27],[117774.3,0.13],[117776.0,0.06],[117777.2,0.29],[117778.8,0.19],[117779.2,0.08],[117781.1,0.41],[117782.2,0.02],
  [117783.8,0.04],[117784.2,0.17],[117785.7,0.31],[117787.0,0.09],[117788.2,0.22],[117789.7,0.03],[117791.2,0.13],[117792.8,0.27],
  [117793.1,0.33],[117794.6,0.19],[117795.2,0.07],[117797.3,0.14],[117798.9,0.26],[117799.2,0.09],[117801.3,0.39],[117802.1,0.02],
  [117803.2,0.13],[117804.8,0.04],[117805.4,0.21],[117807.6,0.31],[117808.1,0.07],[117809.8,0.16],[117811.9,0.24],[117812.2,0.11],
  [117813.9,0.29],[117814.3,0.19],[117815.8,0.35],[117817.8,0.04],[117818.2,0.13],[117819.1,0.22],[117821.2,0.06],[117822.4,0.41],
  [117823.2,0.23],[117824.8,0.14],[117825.3,0.05],[117827.2,0.29],[117828.9,0.18],[117829.8,0.33],[117831.1,0.09],[117832.8,0.02],
  [117833.4,0.07],[117834.9,0.31],[117835.8,0.16],[117837.9,0.24],[117838.3,0.02],[117839.8,0.11],[117841.7,0.28],[117842.2,0.37],
  [117843.8,0.36],[117844.3,0.03],[117845.2,0.21],[117847.3,0.11],[117848.9,0.27],[117849.6,0.08],[117851.9,0.39],[117852.2,0.15],
  [117853.1,0.2],[117854.5,0.31],[117856.6,0.04],[117857.8,0.16],[117859.0,0.38],[117860.9,0.08],[117862.4,0.13],[117863.0,0.27],
  [117863.2,0.31],[117865.4,0.06],[117866.8,0.22],[117867.9,0.13],[117869.0,0.03],[117870.5,0.27],[117871.4,0.33],[117872.6,0.05],
  [117873.8,0.14],[117874.5,0.04],[117876.3,0.2],[117877.2,0.39],[117878.6,0.11],[117880.3,0.32],[117881.5,0.21],[117882.9,0.29],
  [117883.3,0.36],[117884.6,0.16],[117886.1,0.03],[117887.5,0.24],[117888.5,0.31],[117889.8,0.06],[117891.3,0.2],[117892.7,0.15],
  [117893.8,0.02],[117894.4,0.37],[117896.0,0.14],[117897.3,0.24],[117898.6,0.04],[117900.1,0.21],[117901.5,0.13],[117902.5,0.39],
  [117903.3,0.28],[117904.4,0.35],[117906.0,0.04],[117907.2,0.18],[117908.7,0.12],[117909.6,0.31],[117911.0,0.2],[117912.2,0.05],
  [117913.8,0.08],[117914.5,0.36],[117916.0,0.19],[117917.3,0.02],[117918.6,0.14],[117919.9,0.31],[117921.4,0.25],[117922.7,0.11],
  [117923.1,0.26],[117924.3,0.13],[117925.8,0.08],[117927.0,0.33],[117928.3,0.03],[117929.7,0.21],[117931.0,0.15],[117932.3,0.28],
  [117933.8,0.1],[117935.0,0.37],[117936.0,0.03],
];

// upper half of the band (about 0.45 to 1.0)
const bandUpper: [number, number][] = [
  [117333.2,0.83],[117336.9,0.56],[117339.9,0.71],[117342.1,0.47],[117334.8,0.68],
  [117344.4,0.74],[117347.9,0.52],[117350.5,0.83],[117352.0,0.59],[117345.6,0.96],
  [117354.0,0.61],[117357.9,0.49],[117359.0,0.71],[117361.9,0.87],[117363.0,0.57],
  [117364.9,0.79],[117368.9,0.62],[117371.9,0.49],[117369.0,0.84],[117372.0,0.71],
  [117374.1,0.63],[117377.9,0.67],[117379.8,0.89],[117382.0,0.51],[117375.8,0.76],
  [117385.1,0.72],[117388.0,0.84],[117390.9,0.57],[117392.0,0.94],[117384.1,0.59],
  [117394.3,0.77],[117396.0,0.64],[117399.0,0.52],[117401.0,0.86],[117403.0,0.63],
  [117404.1,0.69],[117406.9,0.51],[117408.0,0.77],[117411.8,0.58],[117409.9,0.88],
  [117414.1,0.62],[117415.9,0.84],[117418.0,0.71],[117421.0,0.49],[117423.0,0.91],
  [117424.9,0.74],[117427.9,0.53],[117429.2,0.81],[117431.0,0.67],[117433.0,0.46],
  [117434.1,0.58],[117435.9,0.82],[117437.9,0.64],[117440.9,0.77],[117443.0,0.52],
  [117444.1,0.68],[117446.9,0.57],[117448.0,0.81],[117450.1,0.66],[117452.8,0.59],
  [117454.8,0.79],[117456.9,0.52],[117458.0,0.61],[117460.0,0.88],[117461.9,0.66],
  [117463.9,0.73],[117466.8,0.51],[117469.0,0.64],[117470.9,0.86],[117472.9,0.58],
  [117474.9,0.83],[117476.0,0.59],[117478.0,0.97],[117480.9,0.71],[117482.0,0.49],
  [117484.1,0.76],[117486.0,0.93],[117488.0,0.62],[117490.0,0.81],[117492.0,0.54],
  [117494.0,0.69],[117495.9,0.96],[117498.0,0.73],[117500.0,0.87],[117501.9,0.61],
  [117504.9,0.72],[117506.9,0.94],[117508.9,0.61],[117511.0,0.79],[117512.9,0.53],
  [117514.1,0.77],[117516.0,0.51],[117517.9,0.69],[117520.9,0.86],[117522.0,0.58],
  [117524.1,0.81],[117526.0,0.56],[117527.9,0.74],[117530.0,0.92],[117533.0,0.62],
  [117534.8,0.66],[117537.0,0.84],[117538.0,0.49],[117540.9,0.72],[117542.0,0.59],
  [117544.1,0.73],[117546.0,0.52],[117548.9,0.66],[117550.0,0.91],[117552.0,0.62],
  [117554.9,0.61],[117556.9,0.82],[117558.0,0.54],[117560.9,0.73],[117563.0,0.66],
  [117564.1,0.71],[117566.0,0.58],[117568.0,0.89],[117571.0,0.52],[117572.0,0.82],
  [117574.1,0.66],[117576.0,0.84],[117578.9,0.51],[117580.0,0.71],[117582.9,0.92],
  [117584.1,0.61],[117586.0,0.79],[117588.0,0.57],[117590.9,0.86],[117592.0,0.49],
  [117594.9,0.66],[117596.0,0.52],[117598.0,0.72],[117601.0,0.61],[117602.9,0.91],
  [117604.1,0.81],[117606.0,0.54],[117608.0,0.68],[117611.0,0.79],[117613.0,0.51],
  [117614.0,0.72],[117616.0,0.56],[117618.0,0.91],[117621.0,0.64],[117622.0,0.78],
  [117624.1,0.58],[117626.0,0.71],[117628.0,0.84],[117631.0,0.63],[117632.0,0.96],
  [117634.1,0.76],[117636.0,0.61],[117638.0,0.92],[117641.0,0.53],[117642.0,0.83],
  [117644.1,0.66],[117646.0,0.51],[117648.0,0.96],[117651.0,0.72],[117652.0,0.48],
  [117654.1,0.84],[117656.0,0.57],[117658.0,0.66],[117661.0,0.98],[117662.0,0.62],
  [117664.1,0.73],[117666.0,0.51],[117668.0,0.94],[117671.0,0.77],[117672.0,0.64],
  [117674.1,0.62],[117676.0,0.91],[117678.0,0.79],[117681.0,0.69],[117683.0,0.53],
  [117684.1,0.66],[117686.0,0.98],[117688.0,0.74],[117691.0,0.59],[117692.0,0.86],
  [117694.1,0.87],[117696.0,0.53],[117698.0,0.67],[117701.0,0.81],[117702.0,0.49],
  [117704.1,0.71],[117706.0,0.62],[117708.0,0.93],[117711.0,0.58],[117712.0,0.81],
  [117714.1,0.94],[117716.0,0.58],[117718.0,0.72],[117721.0,0.86],[117722.0,0.63],
  [117724.1,0.79],[117726.0,0.56],[117728.0,0.68],[117731.0,0.97],[117732.0,0.61],
  [117734.1,0.71],[117736.0,0.84],[117738.0,0.57],[117741.0,0.79],[117742.0,0.63],
  [117744.1,0.91],[117746.0,0.64],[117748.0,0.72],[117751.0,0.58],[117752.0,0.86],
  [117754.1,0.69],[117756.0,0.81],[117758.0,0.57],[117761.0,0.74],[117762.0,0.91],
  [117764.1,0.83],[117766.0,0.67],[117768.0,0.55],[117771.0,0.88],[117772.0,0.71],
  [117774.1,0.64],[117776.0,0.91],[117778.0,0.77],[117781.0,0.53],[117782.0,0.69],
  [117784.1,0.84],[117786.0,0.62],[117788.0,0.71],[117791.0,0.93],[117792.0,0.53],
  [117794.1,0.76],[117796.0,0.58],[117798.0,0.94],[117801.0,0.66],[117802.0,0.81],
  [117804.1,0.86],[117806.0,0.54],[117808.0,0.67],[117811.0,0.91],[117812.0,0.59],
  [117814.1,0.63],[117816.0,0.79],[117818.0,0.56],[117821.0,0.84],[117822.0,0.72],
  [117824.1,0.77],[117826.0,0.53],[117828.0,0.86],[117831.0,0.61],[117832.0,0.91],
  [117834.1,0.66],[117836.0,0.56],[117838.0,0.88],[117841.0,0.72],[117842.0,0.52],
  [117844.1,0.81],[117846.0,0.61],[117848.0,0.94],[117851.0,0.68],[117852.0,0.47],
];

const yTicks = [0, 2, 4, 6, 8, 10];
const xTicks = [117400000, 117500000, 117600000, 117700000, 117800000, 117900000];
const xTickLabels = ['1.174', '1.175', '1.176', '1.177', '1.178', '1.179'];
const cbarTicks = [0, 0.2, 0.4, 0.6, 0.8, 1.0];
const cbarLevels = 20;

const FONT = '"Liberation Sans", Arial, Helvetica, sans-serif';
const W = 1180;
const H = 838;

const App = () => {
  const svgRef = useRef<SVGSVGElement>(null);

  useEffect(() => {
    const svg = d3.select(svgRef.current);
    svg.selectAll('*').remove();

    const left = 108, right = 990, top = 20, bottom = 749;
    const x = d3.scaleLinear().domain([117304570, 117965440]).range([left, right]);
    const y = d3.scaleLinear().domain([-0.486, 10.757]).range([bottom, top]);
    const r2Scale = d3.scaleLinear().domain([0, 1]).range([bottom, top]);

    const interp = d3.interpolateRgb('#808080', '#ff0000');
    const colorOf = (r2: number) => {
      const idx = Math.min(cbarLevels - 1, Math.floor(r2 * cbarLevels));
      return interp(idx / (cbarLevels - 1));
    };

    // title (mostly cut by the top edge)
    svg.append('text')
      .attr('x', 113).attr('y', 8.5)
      .attr('font-family', FONT).attr('font-weight', 'bold').attr('font-size', 33.3)
      .text(title);

    const greyPoints = [...bandLeft, ...bandMiddle, ...bandRight, ...bandLow, ...bandUpper, ...scatterSnps]
      .map(d => [d[0], d[1], 0] as [number, number, number]);
    const colored = [...secondarySnps, ...weakLdSnps, ...ldSnps].sort((a, b) => a[2] - b[2]);
    const allPoints = [...greyPoints, ...colored];

    svg.append('g')
      .selectAll('circle')
      .data(allPoints)
      .enter()
      .append('circle')
      .attr('cx', d => x(d[0] * 1000))
      .attr('cy', d => y(d[1]))
      .attr('r', 2.6)
      .attr('fill', d => colorOf(d[2]));

    // VNTR marker
    const vx = x(vntr.kb * 1000);
    const vy = y(vntr.logP);
    svg.append('rect')
      .attr('x', vx - 7.2).attr('y', vy - 7.2)
      .attr('width', 14.4).attr('height', 14.4)
      .attr('fill', '#d62728');

    const ann = svg.append('text')
      .attr('x', vx + 13).attr('y', vy + 18)
      .attr('font-family', FONT).attr('font-size', 27.8).attr('fill', '#d62728');
    ann.append('tspan').attr('font-style', 'italic').text('EIF3H');
    ann.append('tspan').text(' VNTR');
    svg.append('text')
      .attr('x', vx + 13).attr('y', vy + 48)
      .attr('font-family', FONT).attr('font-size', 27.8).attr('fill', '#d62728')
      .text('(imputed)');

    // axes
    const axis = svg.append('g').attr('stroke', '#000').attr('stroke-width', 2.2);
    axis.append('line').attr('x1', left).attr('x2', left).attr('y1', top).attr('y2', bottom + 1.1);
    axis.append('line').attr('x1', left - 1.1).attr('x2', right).attr('y1', bottom).attr('y2', bottom);

    axis.selectAll('.yt').data(yTicks).enter().append('line')
      .attr('x1', left - 9.7).attr('x2', left)
      .attr('y1', d => y(d)).attr('y2', d => y(d));
    axis.selectAll('.xt').data(xTicks).enter().append('line')
      .attr('x1', d => x(d)).attr('x2', d => x(d))
      .attr('y1', bottom).attr('y2', bottom + 9.7);

    svg.append('g').selectAll('text').data(yTicks).enter().append('text')
      .attr('x', left - 19.4).attr('y', d => y(d) + 10)
      .attr('text-anchor', 'end')
      .attr('font-family', FONT).attr('font-size', 27.8)
      .text(d => String(d));

    svg.append('g').selectAll('text').data(xTicks).enter().append('text')
      .attr('x', d => x(d)).attr('y', 791)
      .attr('text-anchor', 'middle')
      .attr('font-family', FONT).attr('font-size', 27.8)
      .text((d, i) => xTickLabels[i]);

    svg.append('text')
      .attr('x', (left + right) / 2).attr('y', 830)
      .attr('text-anchor', 'middle')
      .attr('font-family', FONT).attr('font-size', 27.8)
      .text('Chromosome 8 position (hg19)');

    svg.append('text')
      .attr('x', right).attr('y', 830)
      .attr('text-anchor', 'end')
      .attr('font-family', FONT).attr('font-size', 27.8)
      .text('1e8');

    // y label: -log10 P
    const yl = svg.append('text')
      .attr('transform', `translate(40,${(top + bottom) / 2}) rotate(-90)`)
      .attr('text-anchor', 'middle')
      .attr('font-family', FONT).attr('font-size', 27.8);
    yl.append('tspan').text('\u2212log');
    yl.append('tspan').attr('font-size', 19.5).attr('dy', 6).text('10');
    yl.append('tspan').attr('font-style', 'italic').attr('dy', -6).text('P');

    // colorbar
    const cbX = 1044, cbW = 36;
    const cb = svg.append('g');
    cb.selectAll('rect').data(d3.range(cbarLevels)).enter().append('rect')
      .attr('x', cbX).attr('width', cbW)
      .attr('y', i => r2Scale((i + 1) / cbarLevels))
      .attr('height', i => r2Scale(i / cbarLevels) - r2Scale((i + 1) / cbarLevels) + 0.5)
      .attr('fill', i => interp(i / (cbarLevels - 1)));
    cb.append('rect')
      .attr('x', cbX).attr('y', top).attr('width', cbW).attr('height', bottom - top)
      .attr('fill', 'none').attr('stroke', '#000').attr('stroke-width', 2.2);
    cb.selectAll('line').data(cbarTicks).enter().append('line')
      .attr('x1', cbX + cbW).attr('x2', cbX + cbW + 9.7)
      .attr('y1', d => r2Scale(d)).attr('y2', d => r2Scale(d))
      .attr('stroke', '#000').attr('stroke-width', 2.2);
    cb.selectAll('text').data(cbarTicks).enter().append('text')
      .attr('x', cbX + cbW + 19.4).attr('y', d => r2Scale(d) + 10)
      .attr('font-family', FONT).attr('font-size', 27.8)
      .text(d => d.toFixed(1));

    const cl = svg.append('text')
      .attr('transform', `translate(1173,${(top + bottom) / 2}) rotate(-90)`)
      .attr('text-anchor', 'middle')
      .attr('font-family', FONT).attr('font-size', 27.8);
    cl.append('tspan').attr('font-style', 'italic').text('R');
    cl.append('tspan').attr('font-size', 19.5).attr('dy', -11).text('2');
    cl.append('tspan').attr('dy', 11).text(' with VNTR');
  }, []);

  return (
    <div style={{ position: 'absolute', left: 0, top: 0, background: '#fff' }}>
      <svg ref={svgRef} width={W} height={H} />
    </div>
  );
};

export default App;
